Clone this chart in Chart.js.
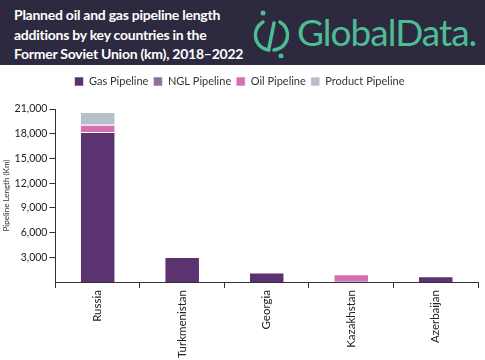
<!DOCTYPE html>
<html>
<head>
<meta charset="utf-8">
<script src="https://cdn.jsdelivr.net/npm/chart.js@4"></script>
<style>
  body { margin:0; width:485px; height:360px; background:#fff; overflow:hidden; font-family:Lato, "Open Sans", sans-serif; }
  .header { position:absolute; left:0; top:0; width:485px; height:65px; background:#2d2a3f; }
  .title { position:absolute; left:14px; top:5px; color:#fff; font-size:14px; font-weight:700; line-height:19.5px; font-family:Lato, sans-serif; letter-spacing:-0.25px; }
  .logo { position:absolute; left:252px; top:8px; }
  .logotext { position:absolute; left:297px; top:10px; color:#4dbd94; font-size:37px; font-family:Lato, sans-serif; letter-spacing:-1px; line-height:44px; }
  .wrap { position:absolute; left:0; top:65px; width:485px; height:295px; }
</style>
</head>
<body>
<div class="header">
  <div class="title">Planned oil and gas pipeline length<br>additions by key countries in the<br>Former Soviet Union (km), 2018–2022</div>
  <svg class="logo" width="40" height="50" viewBox="0 0 40 50">
    <path d="M11 14 A15 15 0 0 0 17 42" fill="none" stroke="#4dbd94" stroke-width="3.5" stroke-linecap="round"/>
    <path d="M28 14 A15 15 0 0 1 22 42" fill="none" stroke="#4dbd94" stroke-width="3.5" stroke-linecap="round"/>
    <line x1="22" y1="15" x2="17" y2="40" stroke="#4dbd94" stroke-width="3.5" stroke-linecap="round"/>
    <circle cx="11" cy="5" r="2.5" fill="#4dbd94"/>
    <circle cx="29" cy="48" r="2.5" fill="#4dbd94"/>
  </svg>
  <div class="logotext">GlobalData.</div>
</div>
<div class="wrap"><canvas id="c"></canvas></div>
<script>
const countries = ['Russia', 'Turkmenistan', 'Georgia', 'Kazakhstan', 'Azerbaijan'];
const gasPipeline = [18200, 3050, 1150, 100, 700];
const nglPipeline = [0, 0, 0, 0, 0];
const oilPipeline = [900, 0, 0, 850, 0];
const productPipeline = [1550, 0, 0, 0, 0];
const yTicks = [3000, 6000, 9000, 12000, 15000, 18000, 21000];

const mk = (label, data, color) => ({
  label, data, backgroundColor: color,
  borderColor: 'rgba(255,255,255,0.55)', borderWidth: 1,
  barPercentage: 0.42, categoryPercentage: 1
});

// push the plot down a bit under the legend
const legendGap = {
  id: 'legendGap',
  beforeInit(chart) {
    const fit = chart.legend.fit;
    chart.legend.fit = function () { fit.bind(chart.legend)(); this.height += 12; };
  }
};

new Chart(document.getElementById('c'), {
  type: 'bar',
  data: {
    labels: countries,
    datasets: [
      mk('Gas Pipeline', gasPipeline, '#5a3370'),
      mk('NGL Pipeline', nglPipeline, '#8f6fa3'),
      mk('Oil Pipeline', oilPipeline, '#d670b1'),
      mk('Product Pipeline', productPipeline, '#b7c0c8')
    ]
  },
  plugins: [legendGap],
  options: {
    responsive: true, maintainAspectRatio: false, animation: false,
    layout: { padding: { left: 1, right: 7, top: 6, bottom: 0 } },
    plugins: {
      legend: {
        position: 'top',
        labels: { boxWidth: 9, boxHeight: 9, padding: 5, color: '#333', font: { size: 11, family: 'Lato' } }
      },
      tooltip: { enabled: false }
    },
    scales: {
      x: {
        stacked: true,
        grid: { display: true, drawOnChartArea: false, offset: true, tickLength: 6, color: '#333' },
        border: { color: '#333', width: 1 },
        ticks: { color: '#222', minRotation: 90, maxRotation: 90, padding: 2, font: { size: 11.5, family: 'Lato' } }
      },
      y: {
        stacked: true, min: 0, max: 21000,
        afterBuildTicks: axis => { axis.ticks = yTicks.map(v => ({ value: v })); },
        grid: { display: true, drawOnChartArea: false, tickLength: 6, color: '#333' },
        border: { color: '#333', width: 1 },
        title: { display: true, text: 'Pipeline Length (Km)', color: '#333', font: { size: 8, family: 'Lato' }, padding: 1 },
        ticks: { color: '#222', padding: 2, font: { size: 10.5, family: 'Lato' }, callback: v => v.toLocaleString('en-US') }
      }
    }
  }
});
</script>
</body>
</html>
